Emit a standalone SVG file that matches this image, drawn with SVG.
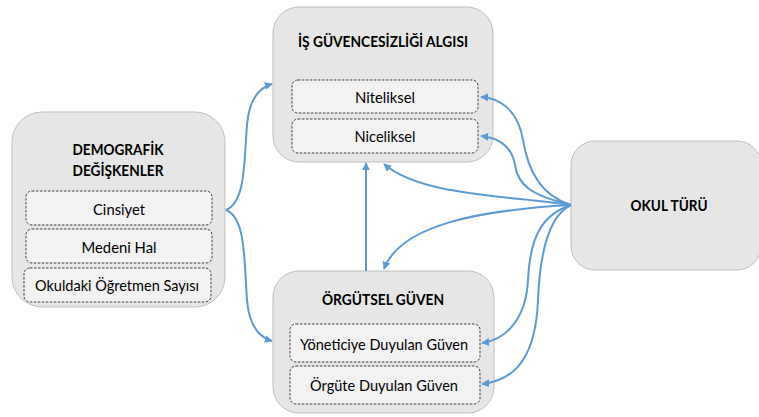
<svg xmlns="http://www.w3.org/2000/svg" width="759" height="417" viewBox="0 0 759 417">
<defs>
<style>
.box{fill:#E6E6E6;stroke:#BFBFBF;stroke-width:1}
.sub{fill:#F2F2F2;stroke:#404040;stroke-width:1;stroke-dasharray:2.5 1.5}
.t{font-family:Lato,"Open Sans","Liberation Sans",sans-serif;font-size:16px;fill:#000;text-anchor:middle}
.b{font-weight:bold;font-size:15px}
.c{fill:none;stroke:#5B9BD5;stroke-width:2;marker-end:url(#ah)}
</style>
<marker id="ah" viewBox="0 0 10 10" refX="9" refY="5" markerWidth="4" markerHeight="4" orient="auto" markerUnits="strokeWidth">
<path d="M0,0 L10,5 L0,10 z" fill="#5B9BD5"/>
</marker>
</defs>
<rect width="759" height="417" fill="#fff"/>

<g id="demografik">
<rect class="box" x="12" y="112" width="213" height="195" rx="30"/>
<text class="t b" x="118" y="155" textLength="91" lengthAdjust="spacingAndGlyphs">DEMOGRAFİK</text>
<text class="t b" x="118" y="176" textLength="91" lengthAdjust="spacingAndGlyphs">DEĞİŞKENLER</text>
<rect class="sub" x="26" y="191" width="186" height="34" rx="6"/>
<text class="t" x="119" y="215" textLength="52" lengthAdjust="spacingAndGlyphs">Cinsiyet</text>
<rect class="sub" x="26" y="229" width="186" height="34" rx="6"/>
<text class="t" x="119" y="253" textLength="75" lengthAdjust="spacingAndGlyphs">Medeni Hal</text>
<rect class="sub" x="24" y="268" width="187" height="34" rx="6"/>
<text class="t" x="117" y="291" textLength="164" lengthAdjust="spacingAndGlyphs">Okuldaki Öğretmen Sayısı</text>
</g>

<g id="is-guvencesizligi">
<rect class="box" x="273" y="7" width="220" height="155" rx="26"/>
<text class="t b" x="383" y="47" textLength="170" lengthAdjust="spacingAndGlyphs">İŞ GÜVENCESİZLİĞİ ALGISI</text>
<rect class="sub" x="292" y="80" width="186" height="33" rx="6"/>
<text class="t" x="385" y="103" textLength="60" lengthAdjust="spacingAndGlyphs">Niteliksel</text>
<rect class="sub" x="292" y="119" width="186" height="34" rx="6"/>
<text class="t" x="385" y="142" textLength="61" lengthAdjust="spacingAndGlyphs">Niceliksel</text>
</g>

<g id="orgutsel-guven">
<rect class="box" x="273" y="271" width="221" height="142" rx="26"/>
<text class="t b" x="383" y="305" textLength="122" lengthAdjust="spacingAndGlyphs">ÖRGÜTSEL GÜVEN</text>
<rect class="sub" x="290" y="324" width="190" height="38" rx="6"/>
<text class="t" x="384" y="350" textLength="168" lengthAdjust="spacingAndGlyphs">Yöneticiye Duyulan Güven</text>
<rect class="sub" x="290" y="366" width="190" height="38" rx="6"/>
<text class="t" x="384" y="391" textLength="148" lengthAdjust="spacingAndGlyphs">Örgüte Duyulan Güven</text>
</g>

<g id="okul-turu">
<rect class="box" x="571" y="141" width="190" height="129" rx="24"/>
<text class="t b" x="669" y="211" textLength="77" lengthAdjust="spacingAndGlyphs">OKUL TÜRÜ</text>
</g>

<g id="connectors">
<path class="c" d="M226,210 C246,202 244,160 247,125 C249,100 258,88 272,84"/>
<path class="c" d="M226,210 C246,218 244,260 247,300 C249,325 258,337 272,341"/>
<path class="c" d="M366,271 L366,163"/>
<path class="c" d="M571,205 C540,195 528,170 523,140 C518,110 500,98 481,97"/>
<path class="c" d="M571,205 C530,195 518,185 515,165 C512,148 500,138 481,136"/>
<path class="c" d="M571,205 C500,195 420,195 384,164"/>
<path class="c" d="M571,205 C480,210 400,225 384,269"/>
<path class="c" d="M571,205 C540,215 530,240 528,280 C526,320 505,340 482,343"/>
<path class="c" d="M571,205 C550,215 540,250 538,300 C536,350 520,380 482,384"/>
</g>
</svg>
